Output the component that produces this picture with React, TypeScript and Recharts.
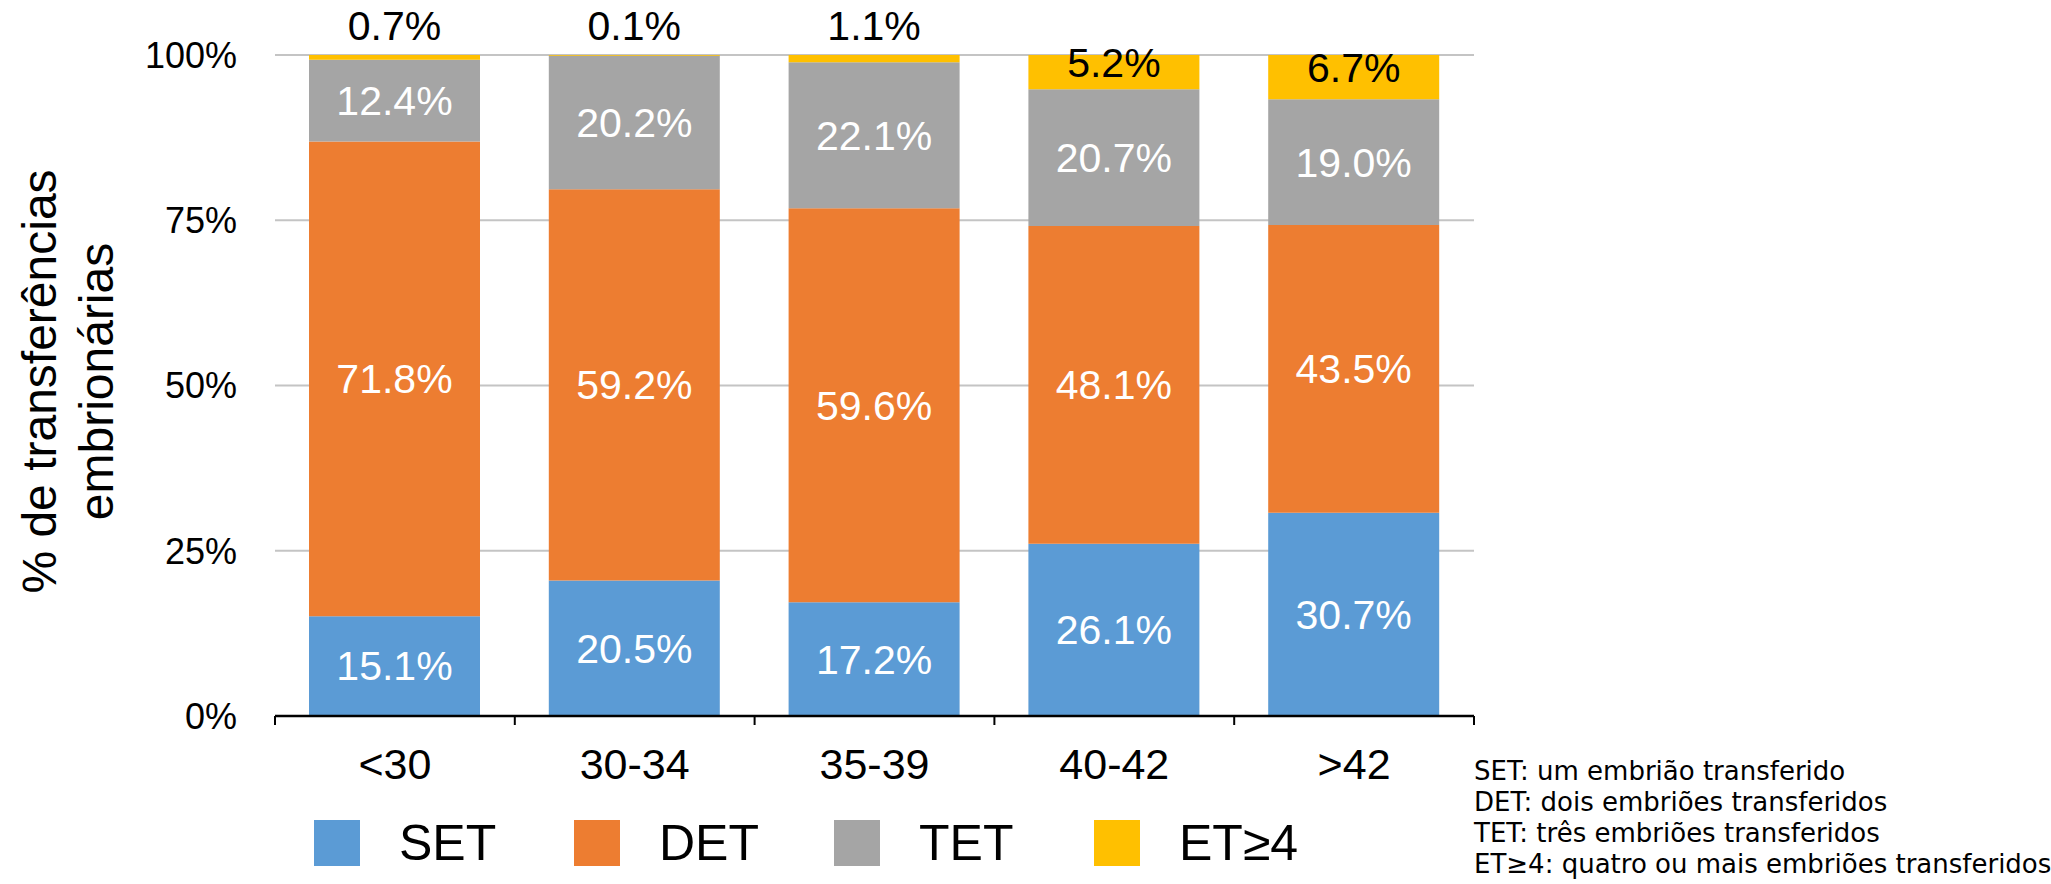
import { BarChart, Bar, XAxis, YAxis, CartesianGrid, Legend, LabelList } from "recharts";

// faixas etárias e % de cada tipo de transferência
const ageGroups = ["<30", "30-34", "35-39", "40-42", ">42"];
const setValues = [15.1, 20.5, 17.2, 26.1, 30.7];
const detValues = [71.8, 59.2, 59.6, 48.1, 43.5];
const tetValues = [12.4, 20.2, 22.1, 20.7, 19.0];
const et4Values = [0.7, 0.1, 1.1, 5.2, 6.7];
const yTicks = [0, 0.25, 0.5, 0.75, 1];
const footnotes = [
    "SET: um embrião transferido",
    "DET: dois embriões transferidos",
    "TET: três embriões transferidos",
    "ET≥4: quatro ou mais embriões transferidos",
];

const series = [
    { key: "SET", name: "SET", color: "#5B9BD5", values: setValues, text: "#FFFFFF" },
    { key: "DET", name: "DET", color: "#ED7D31", values: detValues, text: "#FFFFFF" },
    { key: "TET", name: "TET", color: "#A5A5A5", values: tetValues, text: "#FFFFFF" },
    { key: "ET4", name: "ET≥4", color: "#FFC000", values: et4Values, text: "#000000" },
];

const data = ageGroups.map((group, i) => ({
    group,
    SET: setValues[i],
    DET: detValues[i],
    TET: tetValues[i],
    ET4: et4Values[i],
}));

const CHART_W = 2051;
const CHART_H = 884;
const MARGIN = { top: 55, right: 577, bottom: 108, left: 0 };
const Y_AXIS_W = 275;
const PLOT_W = CHART_W - MARGIN.left - MARGIN.right - Y_AXIS_W;
const CAT_W = PLOT_W / ageGroups.length;
const X_TICK_MARGIN = 32;
const FONT = '"Liberation Sans", Arial, sans-serif';

const fmt = (v: number) => `${v.toFixed(1)}%`;

function makeLabel(s: (typeof series)[number]) {
    return (props: any) => {
        const vb = props.viewBox || props;
        const x = Number(vb.x);
        const y = Number(vb.y);
        const w = Number(vb.width);
        const h = Number(vb.height);
        const v = s.values[props.index];
        let cy = y + h / 2;
        let fill = s.text;
        if (s.key === "ET4") {
            cy = v < 3 ? y - 29 : y + h / 2 - 10;
            fill = "#000000";
        }
        return (
            <text x={x + w / 2} y={cy} dy="0.35em" textAnchor="middle" fontSize={41} fill={fill} fontFamily={FONT}>
                {fmt(v)}
            </text>
        );
    };
}

function AgeTick(props: any) {
    const { x, y, payload, index } = props;
    const axisY = y - X_TICK_MARGIN;
    const left = x - CAT_W / 2;
    const right = x + CAT_W / 2;
    return (
        <g>
            <line x1={left} x2={left} y1={axisY} y2={axisY + 9} stroke="#000" strokeWidth={2} />
            {index === ageGroups.length - 1 && (
                <line x1={right} x2={right} y1={axisY} y2={axisY + 9} stroke="#000" strokeWidth={2} />
            )}
            <text x={x} y={y} dy="0.71em" textAnchor="middle" fontSize={43} fill="#000" fontFamily={FONT}>
                {payload.value}
            </text>
        </g>
    );
}

function YTitle(props: any) {
    const vb = props.viewBox || {};
    const cy = vb.y + vb.height / 2 - 4;
    return (
        <g fontSize={48} fill="#000" fontFamily={FONT} textAnchor="middle">
            <text x={56} y={cy} transform={`rotate(-90, 56, ${cy})`}>
                % de transferências
            </text>
            <text x={113} y={cy} transform={`rotate(-90, 113, ${cy})`}>
                embrionárias
            </text>
        </g>
    );
}

function LegendBox(props: any) {
    const order = series.map((s) => s.name);
    const items = [...(props.payload || [])].sort(
        (a: any, b: any) => order.indexOf(a.value) - order.indexOf(b.value)
    );
    return (
        <div style={{ display: "flex", fontFamily: FONT }}>
            {items.map((it: any) => (
                <div key={it.value} style={{ width: 260, display: "flex", alignItems: "center", height: 56 }}>
                    <span style={{ width: 46, height: 46, background: it.color, display: "inline-block" }} />
                    <span style={{ marginLeft: 39, fontSize: 50, color: "#000", lineHeight: "56px" }}>{it.value}</span>
                </div>
            ))}
        </div>
    );
}

export default function App() {
    return (
        <div
            style={{
                position: "absolute",
                left: 0,
                top: 0,
                width: CHART_W,
                height: CHART_H,
                background: "#fff",
                fontFamily: FONT,
            }}
        >
            <BarChart width={CHART_W} height={CHART_H} data={data} margin={MARGIN} stackOffset="expand" barSize={171}>
                <CartesianGrid vertical={false} stroke="#C4C4C4" strokeWidth={2} />
                <XAxis
                    dataKey="group"
                    interval={0}
                    height={60}
                    axisLine={{ stroke: "#000", strokeWidth: 2.5 }}
                    tickLine={false}
                    tickSize={0}
                    tickMargin={X_TICK_MARGIN}
                    tick={<AgeTick />}
                />
                <YAxis
                    width={Y_AXIS_W}
                    domain={[0, 1]}
                    ticks={yTicks}
                    tickFormatter={(v: number) => `${Math.round(v * 100)}%`}
                    axisLine={false}
                    tickLine={false}
                    tickSize={0}
                    tickMargin={38}
                    tick={{ fontSize: 36, fill: "#000", fontFamily: FONT }}
                    label={<YTitle />}
                />
                <Legend
                    layout="vertical"
                    align="center"
                    verticalAlign="middle"
                    wrapperStyle={{ left: 314, top: 815, width: 1150, height: 56 }}
                    content={<LegendBox />}
                />
                {series.map((s) => (
                    <Bar key={s.key} dataKey={s.key} name={s.name} stackId="a" fill={s.color} isAnimationActive={false}>
                        <LabelList dataKey={s.key} content={makeLabel(s)} />
                    </Bar>
                ))}
            </BarChart>
            <div
                style={{
                    position: "absolute",
                    left: 1474,
                    top: 756,
                    fontFamily: '"DejaVu Sans", sans-serif',
                    fontSize: 26,
                    lineHeight: "31px",
                    color: "#000",
                    whiteSpace: "nowrap",
                }}
            >
                {footnotes.map((line) => (
                    <div key={line}>{line}</div>
                ))}
            </div>
        </div>
    );
}
